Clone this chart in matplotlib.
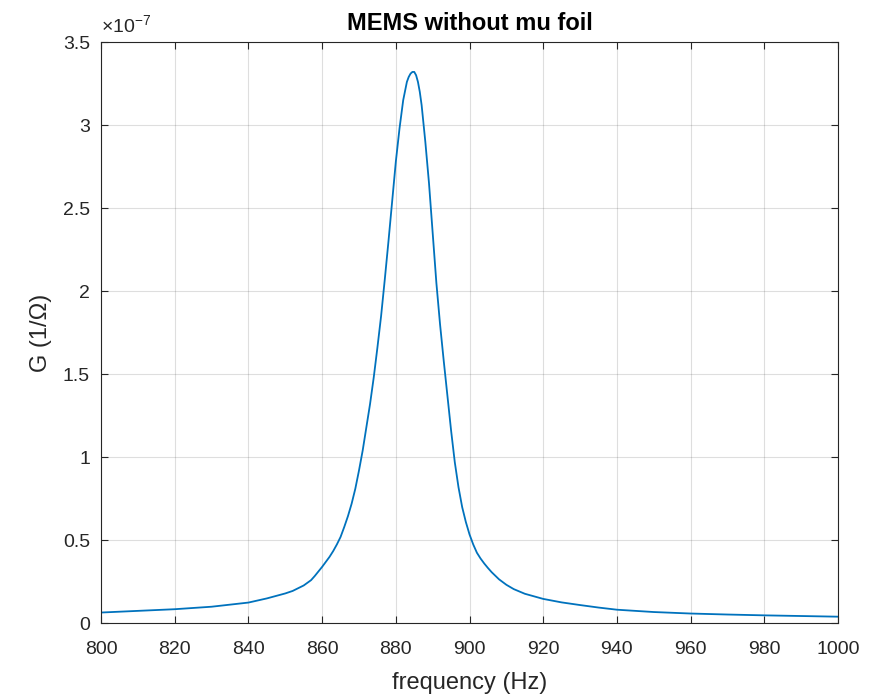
import matplotlib
matplotlib.use("Agg")
import matplotlib.pyplot as plt
from matplotlib.ticker import FuncFormatter, MultipleLocator

# Data (G in units of 1e-7 1/Ohm)
freq = [800, 810, 820, 830, 840, 845, 850, 852, 855, 857, 858, 860, 862, 863,
        864, 865, 866, 867, 868, 869, 870, 871, 872, 873, 874, 875, 876, 877,
        878, 879, 880, 881, 882, 883, 883.5, 884, 884.5, 885, 885.5, 886, 886.5,
        887, 888, 889, 890, 891, 892, 893, 894, 895, 896, 897, 898, 899, 900,
        901, 902, 903, 904, 905, 906, 908, 910, 912, 915, 920, 925, 930, 935,
        940, 950, 960, 970, 980, 990, 1000]
g_e7 = [0.065, 0.075, 0.085, 0.10, 0.125, 0.15, 0.18, 0.195, 0.228, 0.26, 0.285,
        0.34, 0.40, 0.435, 0.475, 0.52, 0.58, 0.645, 0.72, 0.81, 0.92, 1.04, 1.18,
        1.32, 1.48, 1.66, 1.85, 2.07, 2.30, 2.54, 2.78, 2.98, 3.15, 3.26, 3.29,
        3.31, 3.32, 3.32, 3.30, 3.26, 3.20, 3.12, 2.90, 2.65, 2.35, 2.05, 1.80,
        1.58, 1.37, 1.16, 0.97, 0.82, 0.70, 0.61, 0.535, 0.475, 0.425, 0.39, 0.36,
        0.333, 0.308, 0.265, 0.232, 0.206, 0.178, 0.147, 0.126, 0.11, 0.095,
        0.082, 0.068, 0.059, 0.053, 0.048, 0.044, 0.04]
scale = 1e-7
g = [v * scale for v in g_e7]

title = "MEMS without mu foil"
xlabel = "frequency (Hz)"
ylabel = "G (1/\u03a9)"

plt.rcParams['font.family'] = ['Liberation Sans', 'DejaVu Sans']
dark = (0.15, 0.15, 0.15)

fig = plt.figure(figsize=(8.87, 6.97), dpi=100)
ax = fig.add_axes([0.1139, 0.1057, 0.9448 - 0.1139, 0.9397 - 0.1057])

ax.plot(freq, g, color='#0072BD', lw=1.3, solid_joinstyle='round')

ax.set_xlim(800, 1000)
ax.set_ylim(0, 3.5e-7)
ax.xaxis.set_major_locator(MultipleLocator(20))
ax.yaxis.set_major_locator(MultipleLocator(0.5e-7))
ax.yaxis.set_major_formatter(FuncFormatter(lambda v, p: "%g" % round(v / scale, 3)))

ax.grid(True, color=dark, alpha=0.15, lw=0.8)
ax.set_axisbelow(True)
ax.tick_params(direction='in', length=5, width=0.8, top=True, right=True,
               labelsize=14, colors=dark)
ax.tick_params(axis='x', pad=13)
ax.tick_params(axis='y', pad=8)
for s in ax.spines.values():
    s.set_color(dark)
    s.set_linewidth(0.8)

ax.set_title(title, fontsize=17, fontweight='bold', color='black', pad=9)
ax.set_xlabel(xlabel, fontsize=17, color=dark, labelpad=10)
ax.set_ylabel(ylabel, fontsize=17, color=dark, labelpad=8)
ax.text(0.0, 1.008, "\u00d710$^{\\mathregular{-7}}$", transform=ax.transAxes,
        fontsize=14, color=dark, ha='left', va='bottom')

fig.savefig("out.png", dpi=100)
